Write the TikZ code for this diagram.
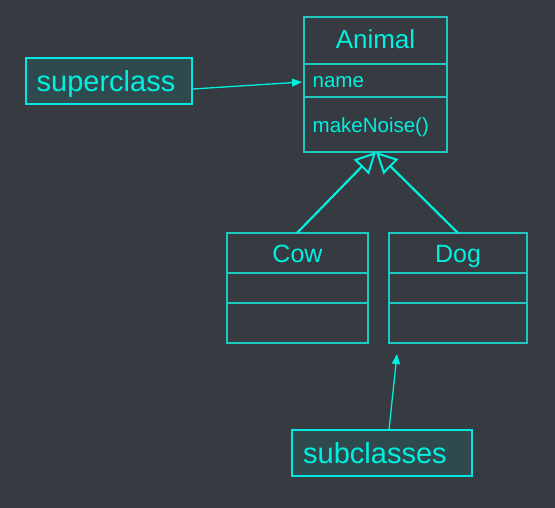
\documentclass[tikz,border=0pt]{standalone}
\usepackage{fontspec}
\setmainfont{Liberation Sans}
\usetikzlibrary{arrows.meta}
\definecolor{bg}{HTML}{363A41}
\definecolor{cls}{HTML}{1CC8C0}
\definecolor{txt}{HTML}{00F0E0}
\definecolor{lblfill}{HTML}{2F4A4E}
\definecolor{lblline}{HTML}{00E8E0}
\begin{document}
\begin{tikzpicture}[x=1pt,y=-1pt,
  clsbox/.style={draw=cls,line width=1.2pt},
  ctext/.style={text=txt,inner sep=0pt,anchor=base},
  ltext/.style={text=txt,inner sep=0pt,anchor=base west},
  lbl/.style={draw=lblline,fill=lblfill,line width=1.6pt},
  inh/.style={draw=txt,line width=2.2pt,-{Triangle[open,width=21pt,length=21pt,line width=2pt]}},
  ptr/.style={draw=txt,line width=1.3pt,-{Triangle[width=8pt,length=10pt]}}]
\fill[bg] (0,0) rectangle (555,508);
\useasboundingbox (0,0) rectangle (555,508);
% Animal
\draw[clsbox] (304,17) rectangle (447,152);
\draw[clsbox] (304,64) -- (447,64);
\draw[clsbox] (304,97) -- (447,97);
\node[ctext,font=\fontsize{26}{30}\selectfont] (animal) at (375.5,49) {Animal};
\node[ltext,font=\fontsize{20.5}{24}\selectfont] (name) at (312.5,88) {name};
\node[ltext,font=\fontsize{20.5}{24}\selectfont] (mk) at (312.5,132.5) {makeNoise()};
\coordinate (atip) at (376,152);
\coordinate (aname) at (302,82);
% Cow
\draw[clsbox] (227,233) rectangle (368,343);
\draw[clsbox] (227,273) -- (368,273);
\draw[clsbox] (227,303) -- (368,303);
\node[ctext,font=\fontsize{25}{29}\selectfont] (cow) at (297.5,262) {Cow};
\coordinate (cowtop) at (297,233);
% Dog
\draw[clsbox] (389,233) rectangle (527,343);
\draw[clsbox] (389,273) -- (527,273);
\draw[clsbox] (389,303) -- (527,303);
\node[ctext,font=\fontsize{25}{29}\selectfont] (dog) at (458,262) {Dog};
\coordinate (dogtop) at (458,233);
\coordinate (dogbot) at (397,354);
% inheritance
\draw[inh] (cowtop) -- (atip);
\draw[inh] (dogtop) -- (atip);
% labels
\draw[lbl] (26,58) rectangle (192,104);
\node[ltext,font=\fontsize{29}{33}\selectfont] (sup) at (36.5,92) {superclass};
\coordinate (supout) at (193,89);
\draw[lbl] (292,430) rectangle (472,476);
\node[ltext,font=\fontsize{29}{33}\selectfont] (sub) at (303,463.5) {subclasses};
\coordinate (subout) at (389,430);
\draw[ptr] (supout) -- (aname);
\draw[ptr] (subout) -- (dogbot);
\end{tikzpicture}
\end{document}
